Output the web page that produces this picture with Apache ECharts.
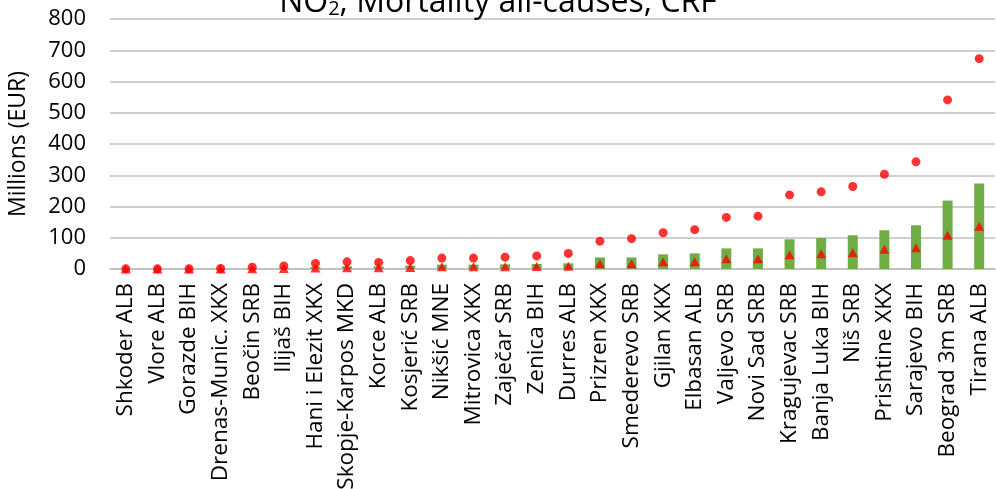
<!DOCTYPE html>
<html>
<head>
<meta charset="utf-8">
<script src="https://cdn.jsdelivr.net/npm/echarts@6/dist/echarts.min.js"></script>
<style>
  html, body { margin: 0; padding: 0; background: #fff; }
  #chart { width: 996px; height: 489px; }
</style>
</head>
<body>
<div id="chart"></div>
<script>
// Cities, ordered by central estimate
const cities = [
  'Shkoder ALB', 'Vlore ALB', 'Gorazde BIH', 'Drenas-Munic. XKX', 'Beočin SRB',
  'Ilijaš BIH', 'Hani i Elezit XKX', 'Skopje-Karpos MKD', 'Korce ALB', 'Kosjerić SRB',
  'Nikšić MNE', 'Mitrovica XKX', 'Zaječar SRB', 'Zenica BIH', 'Durres ALB',
  'Prizren XKX', 'Smederevo SRB', 'Gjilan XKX', 'Elbasan ALB', 'Valjevo SRB',
  'Novi Sad SRB', 'Kragujevac SRB', 'Banja Luka BIH', 'Niš SRB', 'Prishtine XKX',
  'Sarajevo BIH', 'Beograd 3m SRB', 'Tirana ALB'
];

// Costs, millions of EUR
const central = [
  0.2, 0.2, 0.4, 0.8, 2.5, 4, 7, 9, 8.5, 11,
  14, 14, 15, 16, 18, 37, 37, 47, 50, 66,
  66, 95, 99, 108, 124, 140, 219, 274
];
const upper = [
  0.5, 0.5, 0.8, 1.5, 6, 10, 18, 23, 21, 27,
  35, 35, 38, 42, 50, 89, 97, 116, 126, 165,
  169, 237, 247, 264, 303, 343, 541, 673
];
const lower = [
  0, 0, 0, 0.3, 1.2, 2, 3.5, 4, 4, 5,
  7, 7, 7.5, 8, 9, 17, 17, 23, 23, 33,
  33, 46, 49, 52, 63, 68, 108, 137
];

const yTicks = { min: 0, max: 800, interval: 100 };

const FONT = '"Open Sans", sans-serif';
const chart = echarts.init(document.getElementById('chart'));

chart.setOption({
  animation: false,
  backgroundColor: '#ffffff',
  textStyle: { fontFamily: FONT },
  title: {
    text: '{m|NO}{s|2}{m|, Mortality all-causes, CRF}',
    left: 'center',
    top: -18,
    textStyle: {
      fontWeight: 'normal',
      rich: {
        m: { fontFamily: FONT, fontSize: 32, lineHeight: 32, fontWeight: 'normal', color: '#000' },
        s: { fontFamily: FONT, fontSize: 20, lineHeight: 10, fontWeight: 'normal', verticalAlign: 'bottom', color: '#000' }
      }
    }
  },
  grid: { left: 110, right: 1, top: 19, bottom: 220, outerBoundsMode: 'none', containLabel: false },
  xAxis: {
    type: 'category',
    data: cities,
    boundaryGap: true,
    axisLine: { show: true, lineStyle: { color: '#bfbfbf', width: 1.5 } },
    axisTick: { show: false },
    axisLabel: {
      rotate: 90,
      interval: 0,
      margin: 14,
      fontSize: 22.5,
      color: '#000',
      fontFamily: FONT
    }
  },
  yAxis: {
    type: 'value',
    min: yTicks.min,
    max: yTicks.max,
    interval: yTicks.interval,
    name: 'Millions (EUR)',
    nameLocation: 'middle',
    nameGap: 80,
    nameTextStyle: { fontSize: 23, color: '#000', fontFamily: FONT },
    axisLine: { show: false },
    axisTick: { show: false },
    axisLabel: { fontSize: 22, color: '#000', margin: 24, fontFamily: FONT },
    splitLine: { lineStyle: { color: '#bfbfbf', width: 1.5 } }
  },
  series: [
    {
      name: 'Central',
      type: 'bar',
      data: central,
      barWidth: 10,
      itemStyle: { color: '#70ad47' },
      z: 2
    },
    {
      name: 'High',
      type: 'scatter',
      data: upper,
      symbol: 'circle',
      symbolSize: 9,
      itemStyle: { color: '#ff0000' },
      z: 3
    },
    {
      name: 'Low',
      type: 'scatter',
      data: lower,
      symbol: 'triangle',
      symbolSize: [10, 9],
      itemStyle: { color: '#ff0000' },
      z: 4
    }
  ]
});
</script>
</body>
</html>
